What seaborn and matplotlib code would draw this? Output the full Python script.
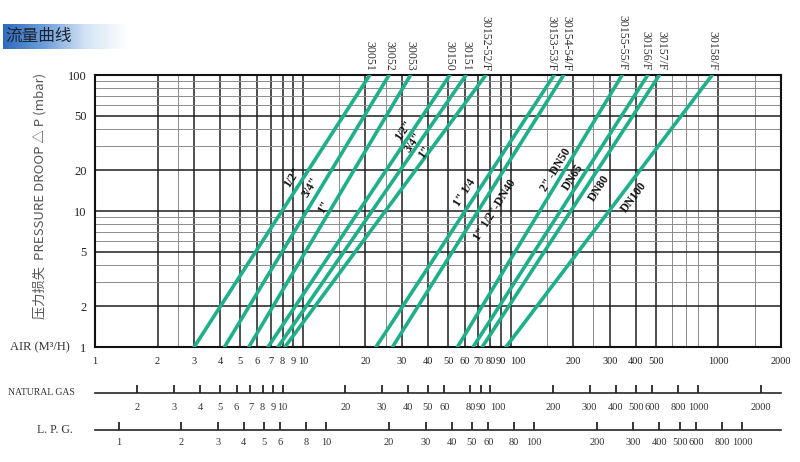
"""
Flow curve chart (pressure drop vs. air flow) with natural gas / LPG scales
Output: out.png (800x462)
"""
import numpy as np
import pandas as pd
import matplotlib
matplotlib.use('Agg')
import matplotlib.pyplot as plt
from matplotlib.colors import LinearSegmentedColormap
from matplotlib.ticker import NullFormatter
import matplotlib.transforms as mtransforms
import seaborn as sns

# ── Data ──
MODELS = ['30051', '30052', '30053', '30150', '30151', '30152-52/F',
          '30153-53/F', '30154-54/F', '30155-55/F', '30156/F', '30157/F', '30158/F']
AIR_AT_1MBAR = [3.0, 4.2, 5.5, 6.8, 7.6, 8.2, 22.5, 27, 55.5, 66, 73, 95]
AIR_AT_100MBAR = [21, 26, 33, 51, 61, 76, 162, 180, 344, 457, 520, 933]
DP_ENDS = [1, 100]

SIZE_LABELS = ['1/2"', '3/4"', '1"', '1/2"', '3/4"', '1"', '1" 1/4',
               '1" 1/2"-DN40', '2" -DN50', 'DN65', 'DN80', 'DN100']
SIZE_LABEL_DP = [17.8, 15, 10.7, 39, 32, 27, 13.6, 10.2, 20, 17.8, 14.8, 12.7]
SIZE_LABEL_DX = [-12, -11, -8, -9, -6, -4, -12, 16, -9, -9, 13, 14]  # px from line

AIR_TICKS = [1, 2, 3, 4, 5, 6, 7, 8, 9, 10, 20, 30, 40, 50, 60, 70, 80, 90,
             100, 200, 300, 400, 500, 1000, 2000]
AIR_MINOR = [2.5, 15, 25, 150, 250, 600, 700, 800, 1500]
DP_TICKS = [1, 2, 5, 10, 20, 50, 100]
DP_MINOR = [3, 4, 6, 7, 8, 9, 30, 40, 60, 70, 80, 90]

NG_FACTOR = 1.25
NG_TICKS = [2, 3, 4, 5, 6, 7, 8, 9, 10, 20, 30, 40, 50, 60, 80, 90, 100,
            200, 300, 400, 500, 600, 800, 1000, 2000]
LPG_FACTOR = 1.3
LPG_TICKS = [1, 2, 3, 4, 5, 6, 8, 10, 20, 30, 40, 50, 60, 80, 100,
             200, 300, 400, 500, 600, 800, 1000]

GREEN = '#1db08a'
SERIF = 'Liberation Serif'
# nudge crowded top labels apart (px)
TOP_NUDGE = {'30153-53/F': -3, '30154-54/F': 3, '30156/F': -2, '30157/F': 2}

# ── Style ──
sns.set_style('white')
plt.rcParams['font.family'] = [SERIF, 'DejaVu Sans']

df = pd.DataFrame({
    'model': np.repeat(MODELS, 2),
    'air': np.ravel(np.column_stack([AIR_AT_1MBAR, AIR_AT_100MBAR])),
    'dp': DP_ENDS * len(MODELS),
})

fig = plt.figure(figsize=(8, 4.62), dpi=100)
ax = fig.add_axes([95 / 800, 1 - 347 / 462, 686 / 800, 272 / 462])

sns.lineplot(data=df, x='air', y='dp', units='model', estimator=None, sort=False,
             color=GREEN, linewidth=2.6, legend=False, ax=ax, zorder=5)

ax.set_xscale('log')
ax.set_yscale('log')
ax.set_xlim(1, 2000)
ax.set_ylim(1, 100)

ax.set_xticks(AIR_TICKS, labels=[str(t) for t in AIR_TICKS])
ax.set_xticks(AIR_MINOR, minor=True)
ax.set_yticks(DP_TICKS, labels=[str(t) for t in DP_TICKS])
ax.set_yticks(DP_MINOR, minor=True)
ax.xaxis.set_minor_formatter(NullFormatter())
ax.yaxis.set_minor_formatter(NullFormatter())
ax.tick_params(which='both', length=0)
ax.tick_params(axis='x', pad=7, labelsize=7.5, labelcolor='#222')
ax.tick_params(axis='y', pad=6, labelsize=9, labelcolor='#222')

ax.grid(True, which='major', color='#1e1e1e', linewidth=1.1)
ax.grid(True, which='minor', color='#8c8c8c', linewidth=0.7)
for s in ax.spines.values():
    s.set_linewidth(1.5)
    s.set_color('#111')

ax.set_xlabel('')
ax.set_ylabel('压力损失  PRESSURE DROOP △ P (mbar)', fontsize=9.5, color='#555',
              family=['Noto Sans CJK SC', 'DejaVu Sans'])
ax.yaxis.set_label_coords(-0.07, 0.555)

blend = mtransforms.blended_transform_factory(ax.transAxes, ax.transData)
ax.text(-0.124, 1, 'AIR (M³/H)', transform=blend, ha='left', va='center',
        fontsize=9, color='#333')

# ── Model labels at top ──
for name, q in zip(MODELS, AIR_AT_100MBAR):
    ax.annotate(name, xy=(q, 1), xycoords=('data', 'axes fraction'),
                xytext=(TOP_NUDGE.get(name, 0) * 0.72, 3), textcoords='offset points',
                rotation=-90, ha='center', va='bottom', fontsize=8.5, color='#333')

# ── Size labels along lines ──
for i, txt in enumerate(SIZE_LABELS):
    q1, q2 = AIR_AT_1MBAR[i], AIR_AT_100MBAR[i]
    dp = SIZE_LABEL_DP[i]
    q = 10 ** np.interp(np.log10(dp), [0, 2], [np.log10(q1), np.log10(q2)])
    p1 = ax.transData.transform((q1, 1))
    p2 = ax.transData.transform((q2, 100))
    ang = np.degrees(np.arctan2(p2[1] - p1[1], p2[0] - p1[0]))
    ax.annotate(txt, xy=(q, dp), xytext=(SIZE_LABEL_DX[i] * 0.72, 0),
                textcoords='offset points', rotation=ang, rotation_mode='anchor',
                ha='center', va='center', fontsize=8.5, fontweight='bold',
                color='#111', zorder=6)

# ── Natural gas / LPG scales ──
ng = ax.secondary_xaxis(-0.169, functions=(lambda x: x * NG_FACTOR,
                                           lambda x: x / NG_FACTOR))
ng.set_ticks(NG_TICKS, labels=[str(t) for t in NG_TICKS])
ng.tick_params(which='major', direction='in', length=6, width=1.3, pad=7,
               labelsize=7.5, labelcolor='#333')
ng.tick_params(which='minor', length=0)
ng.xaxis.set_minor_formatter(NullFormatter())
ng.spines['bottom'].set_linewidth(1.2)

lpg = ax.secondary_xaxis(-0.305, functions=(lambda x: x / LPG_FACTOR,
                                            lambda x: x * LPG_FACTOR))
lpg.set_ticks(LPG_TICKS, labels=[str(t) for t in LPG_TICKS])
lpg.tick_params(which='major', direction='in', length=6, width=1.3, pad=6,
                labelsize=7.5, labelcolor='#333')
lpg.tick_params(which='minor', length=0)
lpg.xaxis.set_minor_formatter(NullFormatter())
lpg.spines['bottom'].set_linewidth(1.2)

# "100" sits just right of its tick so it clears "90"
for lab in ax.get_xticklabels() + ng.xaxis.get_ticklabels():
    if lab.get_text() == '100':
        lab.set_horizontalalignment('left')

ax.text(-0.127, -0.169, 'NATURAL GAS', transform=ax.transAxes, ha='left',
        va='center', fontsize=7, color='#333')
ax.text(-0.085, -0.305, 'L. P. G.', transform=ax.transAxes, ha='left',
        va='center', fontsize=8.5, color='#333')

# ── Title banner ──
bax = fig.add_axes([3 / 800, 1 - 49 / 462, 125 / 800, 25 / 462])
cmap = LinearSegmentedColormap.from_list('banner', ['#2d6bbd', '#6e9fd8', '#d4e4f5', '#ffffff'])
bax.imshow(np.linspace(0, 1, 256)[None, :], aspect='auto', cmap=cmap,
           extent=[0, 1, 0, 1])
bax.set_axis_off()
bax.text(0.02, 0.5, '流量曲线', transform=bax.transAxes, ha='left', va='center',
         fontsize=12, color='#1c2430', family=['Noto Sans CJK SC', 'DejaVu Sans'])

fig.savefig('out.png', dpi=100)
